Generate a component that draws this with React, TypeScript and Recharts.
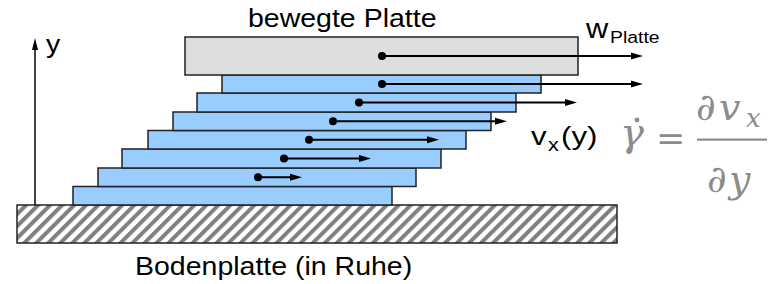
import React from "react";
import { ScatterChart, Scatter, XAxis, YAxis, ReferenceArea, ReferenceLine } from "recharts";

// Fluidschichten, von unten nach oben (Höhe über der Bodenplatte)
const layerBottom = [0, 18.5, 37, 56, 74.5, 93, 112];
const layerTop = [18.5, 37, 56, 74.5, 93, 112, 130];
const layerStart = [73, 98, 122, 148, 173, 197, 222];
const layerEnd = [392, 416, 441, 466, 491, 516, 541];
const dotAt = [null, 258, 284, 309, 333, 359, 382];
const velocity = [0, 44, 87, 130, 174, 218, 261];

// bewegte Platte
const plateSpan = [185, 578];
const plateHeight = [130, 168];
const plateDot = 382;
const plateVelocity = 261;

// Bodenplatte
const groundSpan = [17, 617];
const groundHeight = [-38, 0];

// y-Achse
const axisX = 35;
const axisTop = 167;

const dots = [
  ...layerBottom
    .map((b, i) => ({ x: dotAt[i], y: (b + layerTop[i]) / 2, v: velocity[i] }))
    .filter((d) => d.x !== null),
  { x: plateDot, y: (plateHeight[0] + plateHeight[1]) / 2, v: plateVelocity },
] as { x: number; y: number; v: number }[];

const arrow = (head: number, half: number, sw: number) => (p: any) => {
  const { x1, y1, x2, y2 } = p;
  const len = Math.hypot(x2 - x1, y2 - y1) || 1;
  const ux = (x2 - x1) / len;
  const uy = (y2 - y1) / len;
  const bx = x2 - ux * head;
  const by = y2 - uy * head;
  return (
    <g>
      <line x1={x1} y1={y1} x2={bx + ux} y2={by + uy} stroke="#000" strokeWidth={sw} />
      <polygon
        points={`${x2},${y2} ${bx - uy * half},${by + ux * half} ${bx + uy * half},${by - ux * half}`}
        fill="#000"
      />
    </g>
  );
};

const sans = "Liberation Sans, Arial, sans-serif";
const serif = "'DejaVu Serif', serif";
const grey = "#8c8c8c";

const Txt = ({ x, y, size, sx = 1.14, children }: any) => (
  <text transform={`translate(${x},${y}) scale(${sx},1)`} fontFamily={sans} fontSize={size} fill="#000">
    {children}
  </text>
);

const Math1 = ({ x, y, size, italic = true, children }: any) => (
  <text
    x={x}
    y={y}
    fontFamily={serif}
    fontStyle={italic ? "italic" : "normal"}
    fontSize={size}
    fill={grey}
  >
    {children}
  </text>
);

export default function App() {
  return (
    <div style={{ position: "absolute", left: 0, top: 0, background: "#fff" }}>
      <ScatterChart width={777} height={284} margin={{ top: 0, right: 0, bottom: 0, left: 0 }}>
        <defs>
          <pattern id="hatch" patternUnits="userSpaceOnUse" width="8.5" height="8.5" patternTransform="rotate(45)">
            <rect width="8.5" height="8.5" fill="#fff" />
            <rect width="4" height="8.5" fill="#808080" />
          </pattern>
        </defs>
        <XAxis type="number" dataKey="x" domain={[0, 777]} allowDataOverflow hide />
        <YAxis type="number" dataKey="y" domain={[-79, 205]} allowDataOverflow hide />

        <ReferenceArea
          x1={groundSpan[0]}
          x2={groundSpan[1]}
          y1={groundHeight[0]}
          y2={groundHeight[1]}
          fill="url(#hatch)"
          fillOpacity={1}
          stroke="#222"
          strokeWidth={1.5}
        />
        {layerBottom.map((b, i) => (
          <ReferenceArea
            key={i}
            x1={layerStart[i]}
            x2={layerEnd[i]}
            y1={b}
            y2={layerTop[i]}
            fill="#99ccff"
            fillOpacity={1}
            stroke="#222"
            strokeWidth={1.5}
          />
        ))}
        <ReferenceArea
          x1={plateSpan[0]}
          x2={plateSpan[1]}
          y1={plateHeight[0]}
          y2={plateHeight[1]}
          fill="#dddddd"
          fillOpacity={1}
          stroke="#222"
          strokeWidth={1.5}
        />

        <ReferenceLine
          segment={[
            { x: axisX, y: 0 },
            { x: axisX, y: axisTop },
          ]}
          shape={arrow(12, 3, 1.5)}
        />
        {dots.map((d, i) => (
          <ReferenceLine
            key={i}
            segment={[
              { x: d.x, y: d.y },
              { x: d.x + d.v, y: d.y },
            ]}
            shape={arrow(12, 3.5, 2)}
          />
        ))}
        <Scatter
          data={dots}
          isAnimationActive={false}
          shape={(p: any) => <circle cx={p.cx} cy={p.cy} r={4} fill="#000" />}
        />

        <Txt x={248} y={27} size={25}>bewegte Platte</Txt>
        <Txt x={135} y={275} size={25}>Bodenplatte (in Ruhe)</Txt>
        <Txt x={46} y={53} size={25}>y</Txt>
        <Txt x={586} y={38} size={27}>w</Txt>
        <Txt x={610} y={43} size={17}>Platte</Txt>
        <Txt x={531} y={145} size={26} sx={1.2}>v</Txt>
        <Txt x={548} y={151} size={18} sx={1.2}>x</Txt>
        <Txt x={561} y={145} size={26} sx={1.2}>(y)</Txt>

        <Math1 x={620} y={146} size={40}>γ</Math1>
        <circle cx={637} cy={120} r={2.4} fill={grey} />
        <Math1 x={656} y={150} size={35} italic={false}>=</Math1>
        <rect x={697} y={138.5} width={70} height={2.2} fill={grey} />
        <Math1 x={696} y={120} size={38}>∂</Math1>
        <Math1 x={719} y={120} size={38}>v</Math1>
        <Math1 x={746} y={127} size={26}>x</Math1>
        <Math1 x={707} y={192} size={38}>∂</Math1>
        <Math1 x={729} y={192} size={38}>y</Math1>
      </ScatterChart>
    </div>
  );
}
